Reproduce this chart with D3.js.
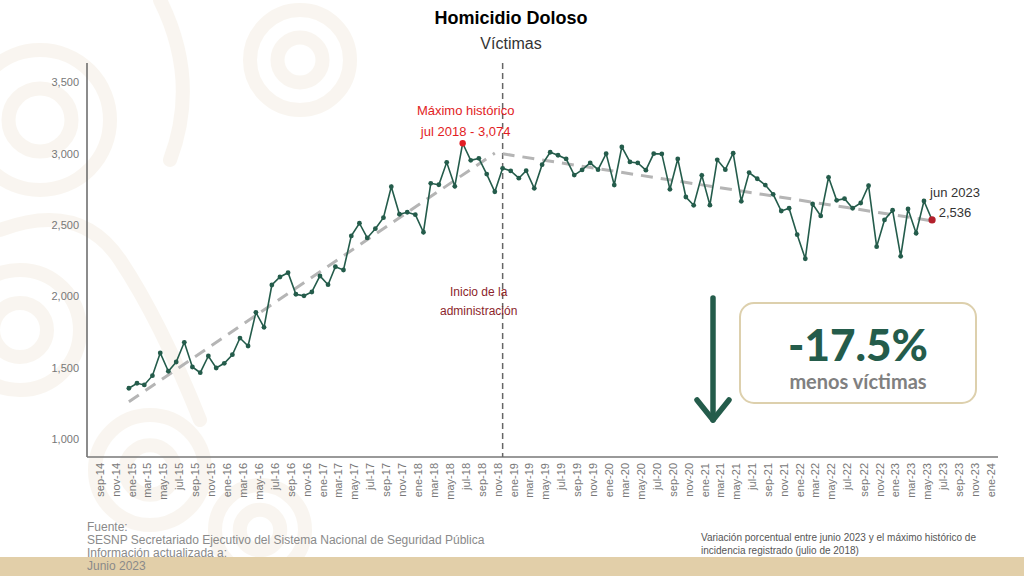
<!DOCTYPE html>
<html>
<head>
<meta charset="utf-8">
<script src="https://cdn.jsdelivr.net/npm/d3@7"></script>
<style>
  body { margin: 0; background: #fff; }
  svg { display: block; font-family: "Liberation Sans", Arial, sans-serif; }
</style>
</head>
<body>
<div class="vis-container"></div>
<script>
// monthly victims, jan 2015 .. jun 2023
const startMonth = new Date(2015, 0, 1);
const victims = [
  1356, 1391, 1379, 1444, 1603, 1475, 1540, 1678, 1505, 1465, 1582, 1498,
  1531, 1591, 1708, 1652, 1888, 1783, 2080, 2136, 2166, 2015, 2004, 2031,
  2143, 2082, 2208, 2185, 2424, 2513, 2410, 2475, 2552, 2769, 2576, 2590,
  2573, 2450, 2793, 2783, 2940, 2772, 3074, 2954, 2968, 2858, 2734, 2898,
  2880, 2829, 2882, 2758, 2924, 3011, 2990, 2964, 2851, 2887, 2936, 2889,
  3001, 2781, 3048, 2943, 2936, 2885, 3001, 2999, 2751, 2964, 2697, 2639,
  2849, 2640, 2958, 2889, 3004, 2667, 2868, 2825, 2781, 2716, 2599, 2618,
  2433, 2264, 2648, 2564, 2835, 2674, 2685, 2618, 2655, 2776, 2349, 2536,
  2604, 2281, 2613, 2443, 2669, 2536
];
// dashed trend segments (endpoints)
const trendBefore = [[new Date(2015, 0, 1), 1262], [new Date(2018, 10, 1), 3005]];
const trendAfter = [[new Date(2018, 11, 1), 3000], [new Date(2023, 5, 1), 2530]];
const yTicks = [1000, 1500, 2000, 2500, 3000, 3500];
const monthNames = ['ene', 'feb', 'mar', 'abr', 'may', 'jun', 'jul', 'ago', 'sep', 'oct', 'nov', 'dic'];
const peakDate = new Date(2018, 6, 1);
const peakLabel = ['Máximo histórico', 'jul 2018 - 3,074'];
const lastLabel = ['jun 2023', '2,536'];
const adminDate = new Date(2018, 11, 1);
const adminLabel = ['Inicio de la', 'administración'];
const sourceLines = ['Fuente:', 'SESNP Secretariado Ejecutivo del Sistema Nacional de Seguridad Pública',
  'Información actualizada a:', 'Junio 2023'];
const noteLines = ['Variación porcentual entre junio 2023 y el máximo histórico de',
  'incidencia registrado (julio de 2018)'];

const GREEN = '#245c4b';

document.addEventListener('DOMContentLoaded', () => {
  buildChart();
});

function buildChart() {
  const width = 1024;
  const height = 576;
  const svg = d3.select('.vis-container').append('svg')
    .attr('width', width)
    .attr('height', height);

  // faint ornament in the background
  const orn = svg.append('g')
    .attr('fill', 'none')
    .attr('stroke', '#f3ebde')
    .attr('stroke-width', 14)
    .attr('stroke-linecap', 'round')
    .attr('opacity', 0.45);
  const spirals = [[40, 120, 70], [20, 330, 60], [150, 470, 55], [300, 60, 50], [260, 530, 45]];
  spirals.forEach(([cx, cy, r]) => {
    orn.append('circle').attr('cx', cx).attr('cy', cy).attr('r', r);
    orn.append('circle').attr('cx', cx).attr('cy', cy).attr('r', r * 0.45);
  });
  orn.append('path').attr('d', 'M0,230 Q80,200 120,260 T200,420');
  orn.append('path').attr('d', 'M160,0 Q200,80 170,160');

  const data = victims.map((v, i) => ({date: d3.timeMonth.offset(startMonth, i), value: v}));

  const x = d3.scaleTime()
    .domain([new Date(2014, 8, 1), new Date(2024, 0, 1)])
    .range([97, 988]);
  const y = d3.scaleLinear().domain([1000, 3500]).range([439, 82.5]);

  // axes
  svg.append('line')
    .attr('x1', 87).attr('x2', 87).attr('y1', 63).attr('y2', 457)
    .attr('stroke', '#666').attr('stroke-width', 1.5);
  svg.append('line')
    .attr('x1', 87).attr('x2', 998).attr('y1', 457).attr('y2', 457)
    .attr('stroke', '#777').attr('stroke-width', 1.5);

  svg.selectAll('.y-label').data(yTicks)
    .enter().append('text')
      .attr('class', 'y-label')
      .attr('x', 79)
      .attr('y', d => y(d))
      .attr('dy', '0.35em')
      .attr('text-anchor', 'end')
      .attr('font-size', 11)
      .attr('fill', '#777')
      .text(d3.format(','));

  const xTicks = d3.timeMonth.every(2).range(new Date(2014, 8, 1), new Date(2024, 0, 2));
  svg.selectAll('.x-label').data(xTicks)
    .enter().append('text')
      .attr('class', 'x-label')
      .attr('transform', d => `translate(${x(d) + 3}, 463) rotate(-90)`)
      .attr('dy', '0.35em')
      .attr('text-anchor', 'end')
      .attr('font-size', 11)
      .attr('fill', '#777')
      .text(d => monthNames[d.getMonth()] + '-' + String(d.getFullYear()).slice(2));

  // start of administration
  svg.append('line')
    .attr('x1', x(adminDate)).attr('x2', x(adminDate))
    .attr('y1', 63).attr('y2', 457)
    .attr('stroke', '#666')
    .attr('stroke-width', 1.5)
    .attr('stroke-dasharray', '6,4');
  svg.selectAll('.admin-label').data(adminLabel)
    .enter().append('text')
      .attr('class', 'admin-label')
      .attr('x', x(adminDate) - 24)
      .attr('y', (d, i) => 296 + i * 19)
      .attr('text-anchor', 'middle')
      .attr('font-size', 12)
      .attr('fill', '#8c1f2b')
      .text(d => d);

  // trends
  const line = d3.line().x(d => x(d[0])).y(d => y(d[1]));
  [trendBefore, trendAfter].forEach(seg => {
    svg.append('path')
      .attr('d', line(seg))
      .attr('fill', 'none')
      .attr('stroke', '#b5b5b5')
      .attr('stroke-width', 3)
      .attr('stroke-dasharray', '12,8');
  });

  // series
  const seriesLine = d3.line().x(d => x(d.date)).y(d => y(d.value));
  svg.append('path')
    .attr('d', seriesLine(data))
    .attr('fill', 'none')
    .attr('stroke', GREEN)
    .attr('stroke-width', 1.6);
  svg.selectAll('.dot').data(data)
    .enter().append('circle')
      .attr('class', 'dot')
      .attr('cx', d => x(d.date))
      .attr('cy', d => y(d.value))
      .attr('r', 2.4)
      .attr('fill', GREEN);

  // peak
  const peak = data.find(d => +d.date === +peakDate);
  svg.append('circle')
    .attr('cx', x(peak.date)).attr('cy', y(peak.value))
    .attr('r', 3.2).attr('fill', '#e21d24');
  svg.selectAll('.peak-label').data(peakLabel)
    .enter().append('text')
      .attr('class', 'peak-label')
      .attr('x', x(peak.date) + 3)
      .attr('y', (d, i) => 115 + i * 21)
      .attr('text-anchor', 'middle')
      .attr('font-size', 13)
      .attr('fill', '#e21d24')
      .text(d => d);

  // last value
  const last = data[data.length - 1];
  svg.append('circle')
    .attr('cx', x(last.date)).attr('cy', y(last.value))
    .attr('r', 3.6).attr('fill', '#b3202c');
  svg.selectAll('.last-label').data(lastLabel)
    .enter().append('text')
      .attr('class', 'last-label')
      .attr('x', x(last.date) + 23)
      .attr('y', (d, i) => 197 + i * 20)
      .attr('text-anchor', 'middle')
      .attr('font-size', 13)
      .attr('fill', '#333')
      .text(d => d);

  // titles
  svg.append('text')
    .attr('x', 511).attr('y', 24)
    .attr('text-anchor', 'middle')
    .attr('font-size', 18)
    .attr('font-weight', 'bold')
    .attr('fill', '#000')
    .text('Homicidio Doloso');
  svg.append('text')
    .attr('x', 511).attr('y', 49)
    .attr('text-anchor', 'middle')
    .attr('font-size', 16)
    .attr('fill', '#333')
    .text('Víctimas');

  // arrow
  const arrow = svg.append('g')
    .attr('stroke', GREEN)
    .attr('stroke-width', 5.5)
    .attr('stroke-linecap', 'round')
    .attr('fill', 'none');
  arrow.append('line').attr('x1', 713).attr('x2', 713).attr('y1', 298).attr('y2', 420);
  arrow.append('path').attr('d', 'M697,400 L713,420 L729,400').attr('stroke-linejoin', 'round');

  // callout box
  svg.append('rect')
    .attr('x', 740).attr('y', 303)
    .attr('width', 236).attr('height', 100)
    .attr('rx', 14)
    .attr('fill', '#fff')
    .attr('stroke', '#ddd0ad')
    .attr('stroke-width', 2);
  svg.append('text')
    .attr('x', 858).attr('y', 361)
    .attr('text-anchor', 'middle')
    .attr('font-family', 'Lato, "Open Sans", sans-serif')
    .attr('font-size', 44)
    .attr('font-weight', 900)
    .attr('fill', GREEN)
    .text('-17.5%');
  svg.append('text')
    .attr('x', 858).attr('y', 389)
    .attr('text-anchor', 'middle')
    .attr('font-family', 'Lato, "Open Sans", sans-serif')
    .attr('font-size', 20)
    .attr('font-weight', 700)
    .attr('fill', '#808080')
    .text('menos víctimas');

  // footer band
  svg.append('rect')
    .attr('x', 0).attr('y', 557)
    .attr('width', width).attr('height', height - 557)
    .attr('fill', '#e2cfa9');

  svg.selectAll('.source').data(sourceLines)
    .enter().append('text')
      .attr('class', 'source')
      .attr('x', 87)
      .attr('y', (d, i) => 531 + i * 13)
      .attr('font-size', 12)
      .attr('fill', '#8a8a8a')
      .text(d => d);

  svg.selectAll('.note').data(noteLines)
    .enter().append('text')
      .attr('class', 'note')
      .attr('x', 701)
      .attr('y', (d, i) => 541 + i * 13)
      .attr('font-size', 10)
      .attr('fill', '#555')
      .text(d => d);
}
</script>
</body>
</html>
